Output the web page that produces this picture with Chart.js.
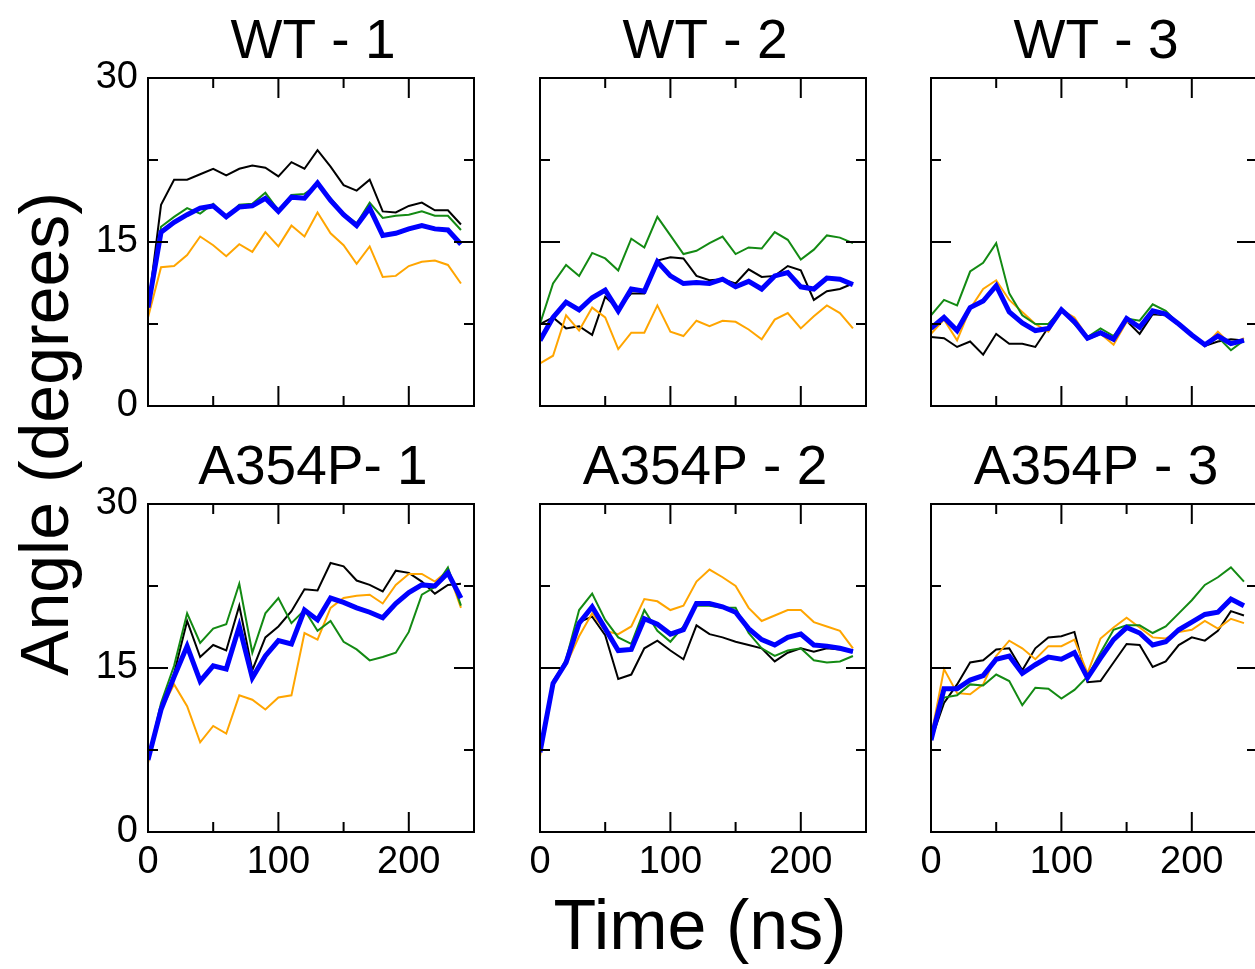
<!DOCTYPE html>
<html>
<head>
<meta charset="utf-8">
<script src="https://cdn.jsdelivr.net/npm/chart.js@4/dist/chart.umd.min.js"></script>
<style>
  body { margin: 0; width: 1255px; height: 969px; overflow: hidden; background: #fff; position: relative; font-family: "Liberation Sans", Arial, sans-serif; }
  .panel { position: absolute; }
  .axtitle { position: absolute; font-size: 68px; line-height: 68px; height: 68px; color: #000; text-align: center; white-space: nowrap; }
</style>
</head>
<body>
<div class="axtitle" style="left:-256px; top:400px; width:600px; transform: rotate(-90deg);">Angle (degrees)</div>
<div class="axtitle" style="left:400px; top:891px; width:600px; font-size:70px;">Time (ns)</div>

<script>
const time = [0, 10, 20, 30, 40, 50, 60, 70, 80, 90, 100, 110, 120, 130, 140, 150, 160, 170, 180, 190, 200, 210, 220, 230, 240];
const yTicks = [0, 15, 30];
const xTicks = [0, 100, 200];

const wt1Black  = [8.9, 18.4, 20.7, 20.7, 21.2, 21.7, 21.1, 21.7, 22.0, 21.8, 21.0, 22.3, 21.7, 23.4, 21.9, 20.2, 19.7, 20.7, 17.8, 17.7, 18.3, 18.6, 17.9, 17.9, 16.6];
const wt1Green  = [9.0, 16.4, 17.3, 18.1, 17.6, 18.5, 17.2, 18.4, 18.5, 19.5, 17.9, 19.3, 19.4, 20.2, 19.0, 17.6, 16.7, 18.6, 17.2, 17.4, 17.5, 17.8, 17.4, 17.4, 16.1];
const wt1Orange = [8.1, 12.7, 12.8, 13.8, 15.5, 14.7, 13.7, 14.8, 14.1, 15.9, 14.6, 16.5, 15.5, 17.7, 15.8, 14.7, 13.0, 14.6, 11.8, 11.9, 12.8, 13.2, 13.3, 12.9, 11.2];
const wt1Blue   = [9.0, 15.9, 16.8, 17.5, 18.1, 18.3, 17.3, 18.2, 18.3, 19.0, 17.8, 19.1, 19.0, 20.4, 18.8, 17.5, 16.5, 18.1, 15.6, 15.8, 16.2, 16.5, 16.2, 16.1, 14.8];

const wt2Black  = [7.5, 8.1, 7.1, 7.3, 6.5, 10.0, 8.9, 10.3, 10.3, 13.3, 13.6, 13.5, 11.9, 11.5, 11.6, 11.2, 12.5, 11.8, 11.9, 12.8, 12.4, 9.7, 10.5, 10.7, 11.2];
const wt2Green  = [7.5, 11.2, 12.9, 11.9, 14.0, 13.5, 12.4, 15.3, 14.5, 17.3, 15.6, 13.9, 14.2, 14.9, 15.5, 13.9, 14.5, 14.4, 15.9, 15.2, 13.4, 14.3, 15.6, 15.4, 14.9];
const wt2Orange = [3.9, 4.6, 8.3, 6.9, 9.0, 8.1, 5.2, 6.7, 6.7, 9.2, 6.8, 6.4, 7.8, 7.3, 7.8, 7.7, 7.0, 6.1, 7.9, 8.5, 7.1, 8.2, 9.2, 8.5, 7.1];
const wt2Blue   = [6.0, 8.1, 9.5, 8.8, 9.9, 10.6, 8.7, 10.7, 10.5, 13.2, 11.9, 11.2, 11.3, 11.2, 11.6, 10.9, 11.4, 10.7, 11.9, 12.2, 10.9, 10.7, 11.7, 11.6, 11.1];

const wt3Black  = [6.3, 6.2, 5.4, 5.9, 4.7, 6.6, 5.7, 5.7, 5.4, 7.2, 8.8, 7.8, 6.1, 6.6, 6.0, 7.8, 6.6, 8.4, 8.3, 7.4, 6.4, 5.5, 5.9, 6.1, 6.0];
const wt3Green  = [8.3, 9.7, 9.2, 12.3, 13.1, 14.9, 10.3, 8.3, 7.5, 7.5, 8.8, 7.5, 6.3, 7.1, 6.4, 8.0, 7.8, 9.3, 8.7, 7.5, 6.6, 5.5, 6.3, 5.1, 6.0];
const wt3Orange = [6.6, 7.9, 6.0, 8.9, 10.7, 11.5, 9.7, 8.6, 7.5, 6.8, 8.8, 8.1, 6.3, 6.6, 5.6, 7.7, 7.4, 8.6, 8.3, 7.4, 6.4, 5.5, 6.8, 5.6, 6.2];
const wt3Blue   = [7.1, 8.1, 6.9, 9.0, 9.6, 11.0, 8.6, 7.6, 6.9, 7.1, 8.8, 7.7, 6.2, 6.7, 6.1, 8.0, 7.2, 8.7, 8.4, 7.5, 6.5, 5.6, 6.4, 5.7, 6.0];

const mut1Black  = [6.6, 11.2, 14.5, 19.3, 16.0, 17.1, 16.6, 20.7, 14.8, 17.8, 18.8, 20.2, 22.2, 22.1, 24.6, 24.3, 23.0, 22.6, 22.0, 23.9, 23.7, 22.9, 21.8, 22.6, 22.7];
const mut1Green  = [6.6, 11.8, 15.2, 20.0, 17.3, 18.6, 19.0, 22.7, 16.4, 20.0, 21.4, 19.1, 20.3, 18.4, 19.3, 17.4, 16.7, 15.7, 16.0, 16.4, 18.3, 21.7, 22.4, 24.2, 20.7];
const mut1Orange = [6.3, 11.2, 13.5, 11.5, 8.2, 9.7, 9.0, 12.5, 12.1, 11.2, 12.3, 12.5, 18.2, 17.6, 20.5, 21.4, 21.6, 21.7, 20.9, 22.6, 23.6, 23.6, 22.9, 23.9, 20.5];
const mut1Blue   = [6.6, 11.2, 14.2, 17.0, 13.8, 15.2, 14.9, 18.8, 14.1, 16.1, 17.5, 17.2, 20.3, 19.4, 21.4, 21.0, 20.5, 20.1, 19.6, 20.9, 21.9, 22.6, 22.5, 23.7, 21.4];

const mut2Black  = [7.3, 13.8, 15.6, 19.2, 19.7, 18.0, 14.0, 14.4, 16.8, 17.5, 16.6, 15.8, 18.9, 18.1, 17.8, 17.4, 17.1, 16.8, 15.6, 16.4, 16.8, 16.5, 16.8, 16.7, 16.5];
const mut2Green  = [7.3, 13.6, 15.8, 20.3, 21.8, 19.4, 17.8, 17.2, 20.3, 18.4, 17.4, 18.8, 20.7, 20.7, 20.5, 20.5, 18.2, 16.8, 16.1, 16.6, 16.8, 15.7, 15.5, 15.6, 16.1];
const mut2Orange = [6.9, 13.6, 15.3, 17.9, 20.0, 18.4, 18.1, 18.8, 21.3, 21.1, 20.3, 20.7, 22.9, 24.0, 23.3, 22.5, 20.5, 19.3, 19.8, 20.3, 20.3, 19.2, 18.8, 18.4, 16.8];
const mut2Blue   = [7.3, 13.6, 15.5, 19.1, 20.6, 18.6, 16.6, 16.7, 19.5, 19.0, 18.1, 18.5, 20.9, 20.9, 20.6, 20.1, 18.6, 17.6, 17.1, 17.8, 18.1, 17.1, 17.0, 16.8, 16.5];

const mut3Black  = [8.4, 11.8, 13.5, 15.5, 15.7, 16.7, 16.8, 14.8, 16.8, 17.8, 17.9, 18.3, 13.7, 13.8, 15.5, 17.2, 17.1, 15.1, 15.6, 17.1, 17.8, 17.5, 18.4, 20.2, 19.8];
const mut3Green  = [8.4, 12.3, 12.5, 13.5, 13.4, 14.4, 13.8, 11.6, 13.2, 13.1, 12.2, 13.0, 14.2, 16.4, 18.5, 18.9, 18.9, 18.2, 18.8, 20.0, 21.2, 22.6, 23.3, 24.2, 22.9];
const mut3Orange = [8.7, 14.9, 12.7, 12.6, 13.5, 16.1, 17.5, 16.8, 15.8, 17.0, 17.0, 17.6, 14.5, 17.7, 18.7, 19.6, 18.7, 17.8, 17.7, 18.3, 18.5, 19.3, 18.6, 19.5, 19.1];
const mut3Blue   = [8.4, 13.1, 13.1, 13.9, 14.3, 15.8, 16.1, 14.5, 15.3, 16.0, 15.8, 16.4, 14.1, 15.9, 17.6, 18.7, 18.2, 17.1, 17.4, 18.5, 19.2, 19.9, 20.1, 21.3, 20.7];

const FONT = "'Liberation Sans', Arial, sans-serif";
const GREEN = '#138a13';
const ORANGE = '#ffa500';

// inward ticks, full frame and the panel title
const framePlugin = {
  id: 'frame',
  afterDraw(chart, args, opts) {
    const { ctx, chartArea: a, scales } = chart;
    ctx.save();
    ctx.strokeStyle = '#000';
    ctx.lineWidth = 2;
    ctx.strokeRect(a.left, a.top, a.right - a.left, a.bottom - a.top);
    ctx.beginPath();
    [7.5, 15, 22.5].forEach(v => {
      const y = scales.y.getPixelForValue(v);
      const len = v % 15 === 0 ? 20 : 10;
      ctx.moveTo(a.left, y); ctx.lineTo(a.left + len, y);
      ctx.moveTo(a.right, y); ctx.lineTo(a.right - len, y);
    });
    [50, 100, 150, 200].forEach(v => {
      const x = scales.x.getPixelForValue(v);
      const len = v % 100 === 0 ? 20 : 10;
      ctx.moveTo(x, a.bottom); ctx.lineTo(x, a.bottom - len);
      ctx.moveTo(x, a.top); ctx.lineTo(x, a.top + len);
    });
    ctx.stroke();
    ctx.fillStyle = '#000';
    ctx.font = '55px ' + FONT;
    ctx.textAlign = 'center';
    ctx.textBaseline = 'alphabetic';
    ctx.fillText(opts.text, (a.left + a.right) / 2 + 2, a.top - 20);
    ctx.restore();
  }
};

function makePanel(left, top, title, black, green, orange, blue, showY, showX) {
  const box = document.createElement('div');
  box.className = 'panel';
  box.style.left = (left - 90) + 'px';
  box.style.top = (top - 70) + 'px';
  const canvas = document.createElement('canvas');
  canvas.width = 426;
  canvas.height = 458;
  box.appendChild(canvas);
  document.body.appendChild(box);

  new Chart(canvas.getContext('2d'), {
    type: 'line',
    data: {
      labels: time,
      datasets: [
        { data: blue, borderColor: '#0000ff', borderWidth: 5, order: 0 },
        { data: green, borderColor: GREEN, borderWidth: 2, order: 1 },
        { data: orange, borderColor: ORANGE, borderWidth: 2, order: 2 },
        { data: black, borderColor: '#000', borderWidth: 2, order: 3 }
      ]
    },
    options: {
      responsive: false,
      animation: false,
      devicePixelRatio: 1,
      layout: { padding: { left: 0, right: 10, top: 70, bottom: 0 } },
      elements: { point: { radius: 0 }, line: { tension: 0 } },
      plugins: { legend: { display: false }, tooltip: { enabled: false }, frame: { text: title } },
      scales: {
        x: {
          type: 'linear', min: 0, max: 250,
          afterFit: s => { s.height = 60; },
          afterBuildTicks: s => { s.ticks = xTicks.map(v => ({ value: v })); },
          grid: { display: false, drawTicks: false },
          border: { display: false },
          ticks: { display: showX, color: '#000', font: { size: 38, family: FONT }, padding: 8, maxRotation: 0 }
        },
        y: {
          min: 0, max: 30,
          afterFit: s => { s.width = 90; },
          afterBuildTicks: s => { s.ticks = yTicks.map(v => ({ value: v })); },
          grid: { display: false, drawTicks: false },
          border: { display: false },
          ticks: { display: showY, color: '#000', font: { size: 38, family: FONT }, padding: 10 }
        }
      }
    },
    plugins: [framePlugin]
  });
}

makePanel(148, 78, 'WT - 1', wt1Black, wt1Green, wt1Orange, wt1Blue, true, false);
makePanel(540, 78, 'WT - 2', wt2Black, wt2Green, wt2Orange, wt2Blue, false, false);
makePanel(931, 78, 'WT - 3', wt3Black, wt3Green, wt3Orange, wt3Blue, false, false);
makePanel(148, 504, 'A354P- 1', mut1Black, mut1Green, mut1Orange, mut1Blue, true, true);
makePanel(540, 504, 'A354P - 2', mut2Black, mut2Green, mut2Orange, mut2Blue, false, true);
makePanel(931, 504, 'A354P - 3', mut3Black, mut3Green, mut3Orange, mut3Blue, false, true);
</script>
</body>
</html>
